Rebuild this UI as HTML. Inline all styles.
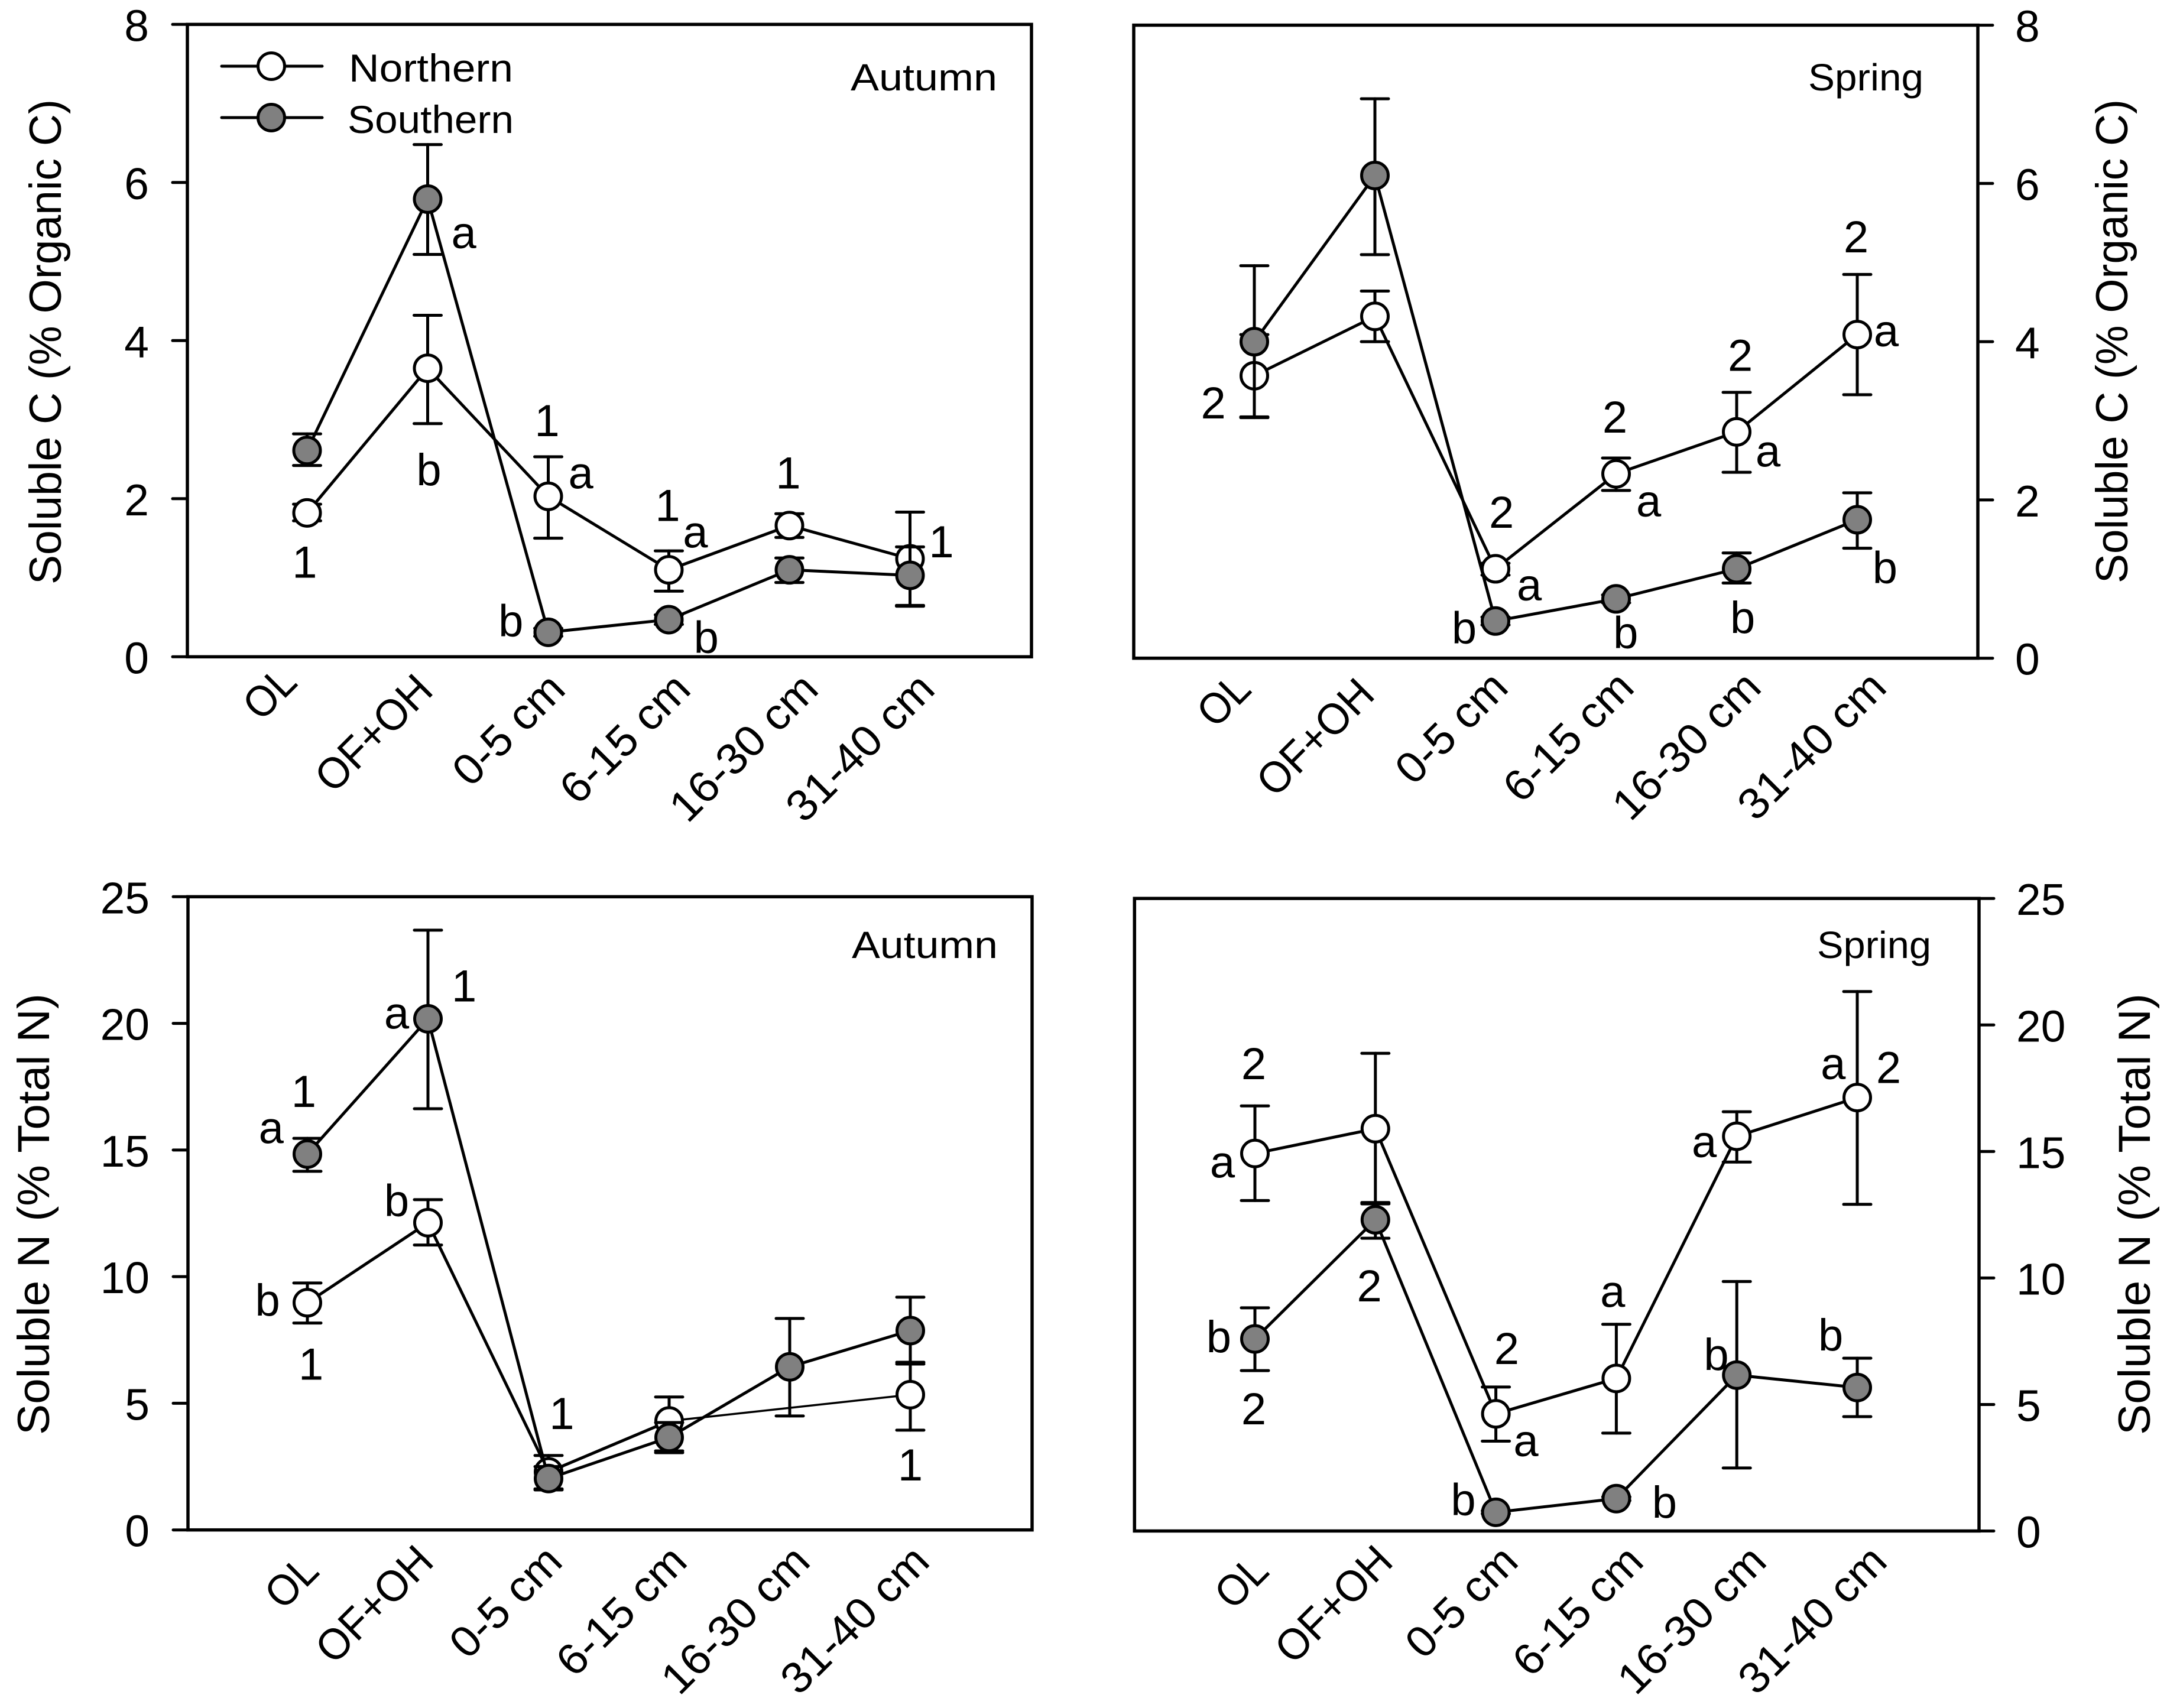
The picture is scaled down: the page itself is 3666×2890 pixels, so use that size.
<!DOCTYPE html>
<html lang="en">
<head>
<meta charset="utf-8">
<title>Soluble C and N by soil layer</title>
<style>
html,body{margin:0;padding:0;background:#fff;}
svg{display:block;}
text{font-family:"Liberation Sans",sans-serif;fill:#000;}
</style>
</head>
<body>
<svg id="figure" xmlns="http://www.w3.org/2000/svg" width="3666" height="2890" viewBox="0 0 3666 2890">
  <rect x="0" y="0" width="3666" height="2890" fill="#fff"/>
</svg>
<script>
// ---- data ----
const categories = ['OL', 'OF+OH', '0-5 cm', '6-15 cm', '16-30 cm', '31-40 cm'];

const cTicks = [0, 2, 4, 6, 8];
const nTicks = [0, 5, 10, 15, 20, 25];

// Soluble C, Autumn
const cAutumnNorth = [1.82, 3.65, 2.03, 1.10, 1.66, 1.24];
const cAutumnNorthUpper = [1.93, 4.32, 2.53, 1.34, 1.81, 1.83];
const cAutumnNorthLower = [1.72, 2.95, 1.50, 0.83, 1.51, 0.65];
const cAutumnSouth = [2.61, 5.79, 0.31, 0.47, 1.10, 1.03];
const cAutumnSouthUpper = [2.82, 6.48, 0.36, 0.53, 1.25, 1.39];
const cAutumnSouthLower = [2.42, 5.09, 0.26, 0.41, 0.94, 0.64];

// Soluble C, Spring
const cSpringNorth = [3.57, 4.32, 1.13, 2.33, 2.86, 4.09];
const cSpringNorthUpper = [4.09, 4.64, 1.20, 2.53, 3.36, 4.85];
const cSpringNorthLower = [3.05, 4.00, 1.05, 2.12, 2.35, 3.33];
const cSpringSouth = [4.00, 6.10, 0.47, 0.75, 1.13, 1.75];
const cSpringSouthUpper = [4.96, 7.07, 0.52, 0.80, 1.33, 2.09];
const cSpringSouthLower = [3.04, 5.10, 0.42, 0.70, 0.95, 1.39];

// Soluble N, Autumn
const nAutumnNorth = [8.97, 12.13, 2.29, 4.30, null, 5.34];
const nAutumnNorthUpper = [9.75, 13.04, 2.94, 5.25, null, 6.62];
const nAutumnNorthLower = [8.17, 11.25, 1.62, 3.12, null, 3.94];
const nAutumnSouth = [14.84, 20.18, 2.03, 3.65, 6.44, 7.87];
const nAutumnSouthUpper = [15.46, 23.68, 2.50, 4.24, 8.35, 9.19];
const nAutumnSouthLower = [14.16, 16.63, 1.58, 3.05, 4.50, 6.55];

// Soluble N, Spring
const nSpringNorth = [14.92, 15.90, 4.63, 6.03, 15.60, 17.13];
const nSpringNorthUpper = [16.80, 18.88, 5.69, 8.17, 16.57, 21.32];
const nSpringNorthLower = [13.06, 12.93, 3.55, 3.87, 14.58, 12.91];
const nSpringSouth = [7.59, 12.30, 0.74, 1.28, 6.16, 5.67];
const nSpringSouthUpper = [8.82, 12.98, 0.80, 1.35, 9.86, 6.83];
const nSpringSouthLower = [6.34, 11.57, 0.68, 1.20, 2.49, 4.52];

// Significance letters: text, position along the category axis, value on the y axis
const cAutumnNotes = [['1',-0.02,1.00],['b',1.01,2.17],['a',1.30,5.17],['1',1.99,2.79],['a',2.27,2.13],['b',1.69,0.26],['1',2.99,1.72],['a',3.22,1.38],['b',3.31,0.05],['1',3.99,2.13],['1',5.26,1.26]];
const cSpringNotes = [['2',-0.34,3.03],['2',2.05,1.65],['a',2.28,0.73],['b',1.74,0.19],['2',2.99,2.85],['a',3.27,1.79],['b',3.08,0.13],['2',4.03,3.63],['a',4.26,2.42],['b',4.05,0.32],['2',4.99,5.13],['a',5.24,3.94],['b',5.23,0.95]];
const nAutumnNotes = [['1',-0.03,16.7],['a',-0.30,15.27],['b',-0.33,8.46],['1',0.03,5.93],['a',0.74,19.79],['1',1.30,20.87],['b',0.74,12.39],['1',2.11,3.98],['1',5.0,1.95]];
const nSpringNotes = [['2',-0.01,17.86],['a',-0.27,13.97],['b',-0.30,7.07],['2',-0.01,4.22],['2',0.95,9.08],['2',2.09,6.6],['a',2.25,2.96],['b',1.73,0.63],['a',2.97,8.85],['b',3.40,0.52],['a',3.73,14.77],['b',3.83,6.36],['a',4.80,17.86],['2',5.26,17.71],['b',4.78,7.14]];

// ---- layout ----
const categoryLabelLength = {'OL':91,'OF+OH':244,'0-5 cm':232,'6-15 cm':275,'16-30 cm':318,'31-40 cm':318};

const panels = [
  {key:'autumn-c', left:317, right:1745, top:41.3, bottom:1111.3, firstX:519.5, stepX:204, ticks:cTicks, axisSide:'left',
   north:cAutumnNorth, northUpper:cAutumnNorthUpper, northLower:cAutumnNorthLower,
   south:cAutumnSouth, southUpper:cAutumnSouthUpper, southLower:cAutumnSouthLower, notes:cAutumnNotes,
   season:'Autumn', seasonX:1439, seasonY:153, seasonLen:248,
   title:'Soluble C (% Organic C)', titleX:103, titleY:989, titleLen:821,
   labelEndX:[506,736,960,1172,1388,1585], labelEndY:[1158,1172,1170,1170,1170,1170]},
  {key:'spring-c', left:1918, right:3346, top:42.6, bottom:1113.7, firstX:2122, stepX:204, ticks:cTicks, axisSide:'right',
   north:cSpringNorth, northUpper:cSpringNorthUpper, northLower:cSpringNorthLower,
   south:cSpringSouth, southUpper:cSpringSouthUpper, southLower:cSpringSouthLower, notes:cSpringNotes,
   season:'Spring', seasonX:3059, seasonY:153, seasonLen:195,
   title:'Soluble C (% Organic C)', titleX:3599, titleY:987, titleLen:819,
   labelEndX:[2120,2329,2555,2768,2983,3195], labelEndY:[1170,1179,1167,1167,1167,1167]},
  {key:'autumn-n', left:318, right:1746, top:1517.3, bottom:2588.7, firstX:520, stepX:204, ticks:nTicks, axisSide:'left',
   north:nAutumnNorth, northUpper:nAutumnNorthUpper, northLower:nAutumnNorthLower,
   south:nAutumnSouth, southUpper:nAutumnSouthUpper, southLower:nAutumnSouthLower, notes:nAutumnNotes,
   season:'Autumn', seasonX:1441, seasonY:1621, seasonLen:247,
   title:'Soluble N (% Total N)', titleX:83, titleY:2428, titleLen:747,
   labelEndX:[543,737,955,1166,1374,1576], labelEndY:[2662,2646,2646,2646,2646,2646]},
  {key:'spring-n', left:1919.3, right:3348, top:1520.2, bottom:2590.5, firstX:2123, stepX:203.8, ticks:nTicks, axisSide:'right',
   north:nSpringNorth, northUpper:nSpringNorthUpper, northLower:nSpringNorthLower,
   south:nSpringSouth, southUpper:nSpringSouthUpper, southLower:nSpringSouthLower, notes:nSpringNotes,
   season:'Spring', seasonX:3074, seasonY:1621, seasonLen:193,
   title:'Soluble N (% Total N)', titleX:3637, titleY:2428, titleLen:747,
   labelEndX:[2150,2360,2572,2784,2992,3196], labelEndY:[2662,2646,2646,2646,2646,2646]}
];

// ---- drawing ----
const NS = 'http://www.w3.org/2000/svg';
const figure = document.getElementById('figure');

function group(parent) {
  const g = document.createElementNS(NS, 'g');
  parent.appendChild(g);
  return g;
}
function line(parent, x1, y1, x2, y2, width) {
  const el = document.createElementNS(NS, 'line');
  el.setAttribute('x1', x1);
  el.setAttribute('y1', y1);
  el.setAttribute('x2', x2);
  el.setAttribute('y2', y2);
  el.setAttribute('stroke', '#000');
  el.setAttribute('stroke-width', width);
  el.setAttribute('stroke-linecap', 'round');
  parent.appendChild(el);
  return el;
}
function label(parent, str, x, y, size, anchor, length, rotate) {
  const el = document.createElementNS(NS, 'text');
  el.textContent = str;
  el.setAttribute('x', x);
  el.setAttribute('y', y);
  el.setAttribute('font-size', size);
  el.setAttribute('text-anchor', anchor);
  if (length) {
    el.setAttribute('textLength', length);
    el.setAttribute('lengthAdjust', 'spacingAndGlyphs');
  }
  if (rotate) {
    el.setAttribute('transform', 'rotate(' + rotate + ' ' + x + ' ' + y + ')');
  }
  parent.appendChild(el);
  return el;
}
function marker(parent, x, y, fill) {
  const el = document.createElementNS(NS, 'circle');
  el.setAttribute('cx', x);
  el.setAttribute('cy', y);
  el.setAttribute('r', 22.5);
  el.setAttribute('fill', fill);
  el.setAttribute('stroke', '#000');
  el.setAttribute('stroke-width', 5);
  parent.appendChild(el);
  return el;
}

function drawSeries(parent, p, values, upper, lower, fill, xAt, yAt) {
  const capHalf = 23;
  // error bars
  values.forEach(function (v, i) {
    if (v === null) return;
    const x = xAt(i);
    const stem = line(parent, x, yAt(upper[i]), x, yAt(lower[i]), 5);
    
    
    const capTop = line(parent, x - capHalf, yAt(upper[i]), x + capHalf, yAt(upper[i]), 5);
    
    
    const capBottom = line(parent, x - capHalf, yAt(lower[i]), x + capHalf, yAt(lower[i]), 5);
    
    
  });
  // connecting segments (a thinner bridge spans a missing value)
  let prev = -1;
  values.forEach(function (v, i) {
    if (v === null) return;
    if (prev >= 0) {
      const bridged = i - prev > 1;
      const seg = line(parent, xAt(prev), yAt(values[prev]), xAt(i), yAt(v), bridged ? 3.5 : 5);
      
      
    }
    prev = i;
  });
  // markers
  values.forEach(function (v, i) {
    if (v === null) return;
    const m = marker(parent, xAt(i), yAt(v), fill);
    
    
  });
}

panels.forEach(function (p) {
  const maxTick = p.ticks[p.ticks.length - 1];
  const minTick = p.ticks[0];
  const xAt = function (i) { return p.firstX + i * p.stepX; };
  const yAt = function (v) { return p.bottom - (v - minTick) / (maxTick - minTick) * (p.bottom - p.top); };

  const g = group(figure);
  
  

  // frame
  const frame = document.createElementNS(NS, 'rect');
  frame.setAttribute('x', p.left);
  frame.setAttribute('y', p.top);
  frame.setAttribute('width', p.right - p.left);
  frame.setAttribute('height', p.bottom - p.top);
  frame.setAttribute('fill', 'none');
  frame.setAttribute('stroke', '#000');
  frame.setAttribute('stroke-width', 5.5);
  
  
  g.appendChild(frame);

  // y ticks and labels
  p.ticks.forEach(function (t) {
    const y = yAt(t);
    if (p.axisSide === 'left') {
      const tick = line(g, p.left - 25, y, p.left, y, 5);
      
      
      const txt = label(g, String(t), p.left - 65, y + 28, 75, 'end');
      
      
    } else {
      const tick = line(g, p.right, y, p.right + 25, y, 5);
      
      
      const txt = label(g, String(t), p.right + 63, y + 28, 75, 'start');
      
      
    }
  });

  // y title
  const title = label(g, p.title, p.titleX, p.titleY, 76, 'start', p.titleLen, -90);
  
  

  // category labels
  categories.forEach(function (c, i) {
    const txt = label(g, c, p.labelEndX[i], p.labelEndY[i], 74, 'end', categoryLabelLength[c], -45);
    
    
  });

  // season label
  const season = label(g, p.season, p.seasonX, p.seasonY, 64, 'start', p.seasonLen);
  
  

  // series
  const northGroup = group(g);
  
  
  drawSeries(northGroup, p, p.north, p.northUpper, p.northLower, '#fff', xAt, yAt);

  const southGroup = group(g);
  
  
  drawSeries(southGroup, p, p.south, p.southUpper, p.southLower, '#808080', xAt, yAt);

  // significance letters
  p.notes.forEach(function (n) {
    const txt = label(g, n[0], xAt(n[1]), yAt(n[2]), 76, 'middle');
    
    
  });
});

// legend
const legend = group(figure);



const legendNorthLine = line(legend, 375, 112, 545, 112, 5);


const legendNorthMarker = marker(legend, 459, 112, '#fff');


const legendNorthText = label(legend, 'Northern', 590, 138, 66, 'start', 278);



const legendSouthLine = line(legend, 375, 199, 545, 199, 5);


const legendSouthMarker = marker(legend, 459, 199, '#808080');


const legendSouthText = label(legend, 'Southern', 588, 225, 66, 'start', 281);


</script>
</body>
</html>
